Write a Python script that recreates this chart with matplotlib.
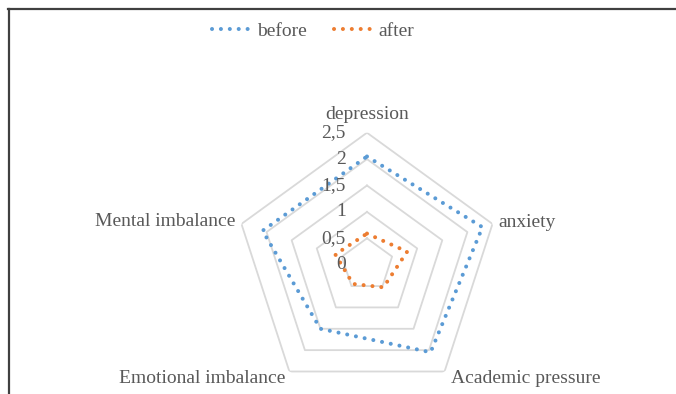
import numpy as np
import matplotlib
matplotlib.use("Agg")
import matplotlib.pyplot as plt
from matplotlib.lines import Line2D
from matplotlib.transforms import offset_copy

categories = ["depression", "anxiety", "Academic pressure",
              "Emotional imbalance", "Mental imbalance"]
before = [2.05, 2.30, 2.05, 1.50, 2.08]
after = [0.59, 0.80, 0.53, 0.45, 0.63]
ring_values = [0.5, 1.0, 1.5, 2.0, 2.5]
tick_values = [0, 0.5, 1, 1.5, 2, 2.5]
tick_labels = ["0", "0,5", "1", "1,5", "2", "2,5"]

BLUE = "#5B9BD5"
ORANGE = "#ED7D31"
GRID = "#D9D9D9"
TEXT = "#595959"
FONT = "Liberation Serif"
FS = 14

fig = plt.figure(figsize=(6.76, 3.94), dpi=100)
ax = fig.add_axes([0.3476, -0.0069, 0.3905, 0.6701], projection="polar")
ax.set_theta_offset(np.pi / 2)
ax.set_theta_direction(-1)
ax.set_ylim(0, 2.5)
ax.set_xticks([])
ax.set_yticks([])
ax.grid(False)
ax.spines["polar"].set_visible(False)
ax.patch.set_alpha(0)

n = len(categories)
theta = np.linspace(0, 2 * np.pi, n, endpoint=False)
theta_closed = np.append(theta, theta[0])

# pentagon gridlines
for rv in ring_values:
    ax.plot(theta_closed, [rv] * (n + 1), color=GRID, lw=1.3, zorder=1)

dots = (0, (0.01, 2.2))
def closed(vals):
    return list(vals) + [vals[0]]

line_b, = ax.plot(theta_closed, closed(before), color=BLUE, lw=2.9,
                  linestyle=dots, dash_capstyle="round", zorder=3, label="before")
line_a, = ax.plot(theta_closed, closed(after), color=ORANGE, lw=2.9,
                  linestyle=dots, dash_capstyle="round", zorder=3, label="after")

# radial value labels along the top axis
tick_tr = offset_copy(ax.transData, fig=fig, x=-21, y=0, units="dots")
for tv, tl in zip(tick_values, tick_labels):
    ax.text(0, tv, tl, transform=tick_tr, ha="right", va="center",
            fontsize=FS, color=TEXT, family=FONT, zorder=4)

# category labels around the outer ring
label_offsets = [(0, 18, "center", "center"),
                 (6, 1, "left", "center"),
                 (6, -7, "left", "center"),
                 (-4, -7, "right", "center"),
                 (-6, 2, "right", "center")]
for th, cat, (dx, dy, ha, va) in zip(theta, categories, label_offsets):
    tr = offset_copy(ax.transData, fig=fig, x=dx, y=dy, units="dots")
    ax.text(th, 2.5, cat, transform=tr, ha=ha, va=va,
            fontsize=FS, color=TEXT, family=FONT)

leg = fig.legend(handles=[line_b, line_a], loc="center",
                 bbox_to_anchor=(313 / 676, 1 - 31 / 394), ncol=2,
                 frameon=False, handlelength=2.0, columnspacing=1.4,
                 handletextpad=0.3,
                 prop={"family": FONT, "size": FS})
for t in leg.get_texts():
    t.set_color(TEXT)

# chart border (top and left edges)
fig.add_artist(Line2D([8 / 676, 1], [1 - 9 / 394, 1 - 9 / 394],
                      transform=fig.transFigure, color="#404040", lw=1.6))
fig.add_artist(Line2D([8.5 / 676, 8.5 / 676], [0, 1 - 9 / 394],
                      transform=fig.transFigure, color="#404040", lw=1.6))

fig.savefig("out.png", dpi=100)
